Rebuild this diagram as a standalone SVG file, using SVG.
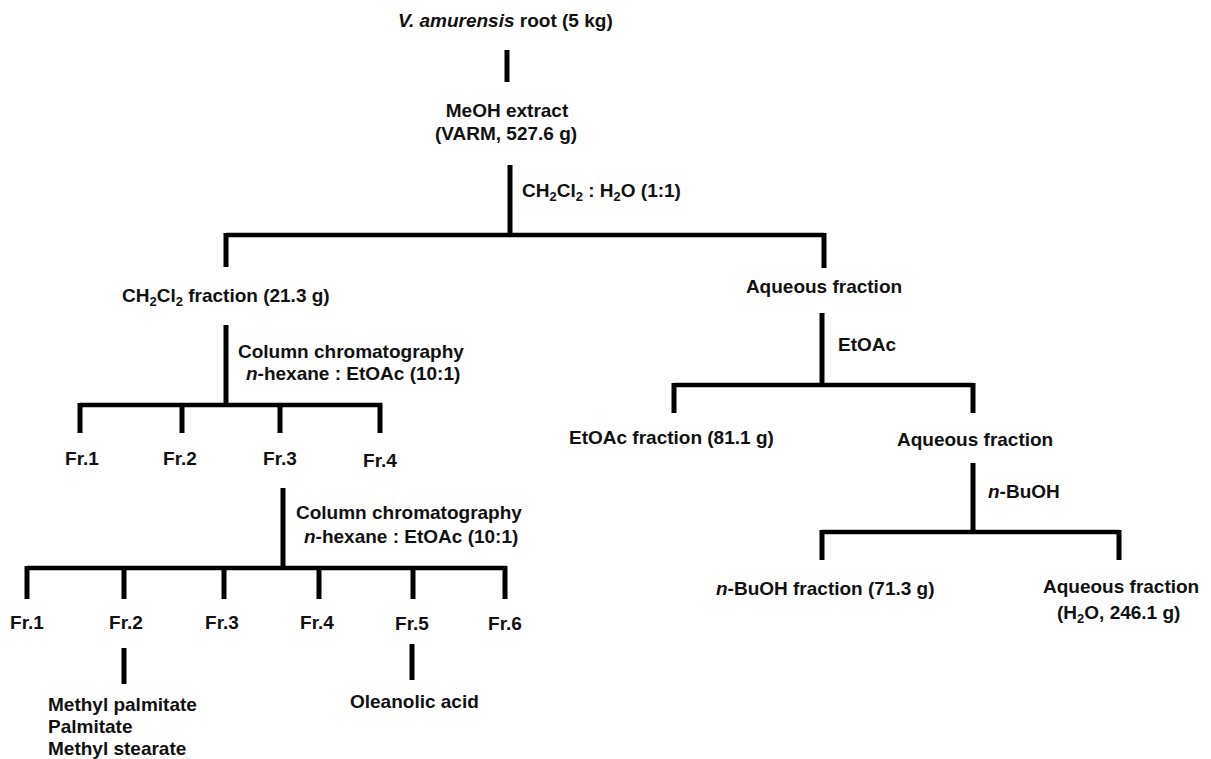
<svg xmlns="http://www.w3.org/2000/svg" width="1211" height="759" viewBox="0 0 1211 759">
<style>
text{font-family:"Liberation Sans",Arial,sans-serif;font-size:19px;font-weight:bold;fill:#111}
.m{text-anchor:middle}
.i{font-style:italic}
.s{font-size:13px}
.v{stroke:#000;stroke-width:5;fill:none}
.h{stroke:#000;stroke-width:4.5;fill:none}
</style>
<rect width="1211" height="759" fill="#fff"/>
<g id="connectors">
<path class="v" d="M507 50V82"/>
<path class="v" d="M510 165V235"/>
<path class="h" d="M226 235H824"/>
<path class="v" d="M226 233V267M824 233V268"/>
<path class="v" d="M226 325V405"/>
<path class="h" d="M80 405H382"/>
<path class="v" d="M80 403V433M182 403V433M280 403V433M380 403V433"/>
<path class="v" d="M283 488V568"/>
<path class="h" d="M27 568H507"/>
<path class="v" d="M27 566V599M124 566V599M224 566V599M319 566V599M413 566V599M505 566V599"/>
<path class="v" d="M124 648V684M412 644V680"/>
<path class="v" d="M822 313V385"/>
<path class="h" d="M674 385H973"/>
<path class="v" d="M674 383V413M973 383V413"/>
<path class="v" d="M973 463V532"/>
<path class="h" d="M822 532H1119"/>
<path class="v" d="M822 530V560M1119 530V560"/>
</g>
<g id="root"><text x="398" y="27"><tspan class="i">V. amurensis</tspan> root (5 kg)</text></g>
<g id="meoh"><text class="m" x="507" y="117">MeOH extract</text><text class="m" x="506" y="140">(VARM, 527.6 g)</text></g>
<g id="lbl-partition"><text x="522" y="197">CH<tspan class="s" dy="4">2</tspan><tspan dy="-4">Cl</tspan><tspan class="s" dy="4">2</tspan><tspan dy="-4"> : H</tspan><tspan class="s" dy="4">2</tspan><tspan dy="-4">O (1:1)</tspan></text></g>
<g id="ch2cl2"><text x="122" y="302">CH<tspan class="s" dy="4">2</tspan><tspan dy="-4">Cl</tspan><tspan class="s" dy="4">2</tspan><tspan dy="-4"> fraction (21.3 g)</tspan></text></g>
<g id="lbl-cc1"><text x="238" y="358">Column chromatography</text><text x="246" y="380"><tspan class="i">n</tspan>-hexane : EtOAc (10:1)</text></g>
<g id="fr1a"><text class="m" x="82" y="465">Fr.1</text></g>
<g id="fr2a"><text class="m" x="180" y="465">Fr.2</text></g>
<g id="fr3a"><text class="m" x="280" y="465">Fr.3</text></g>
<g id="fr4a"><text class="m" x="380" y="467">Fr.4</text></g>
<g id="lbl-cc2"><text x="296" y="519">Column chromatography</text><text x="304" y="543"><tspan class="i">n</tspan>-hexane : EtOAc (10:1)</text></g>
<g id="fr1b"><text class="m" x="27" y="629">Fr.1</text></g>
<g id="fr2b"><text class="m" x="126" y="629">Fr.2</text></g>
<g id="fr3b"><text class="m" x="222" y="629">Fr.3</text></g>
<g id="fr4b"><text class="m" x="317" y="629">Fr.4</text></g>
<g id="fr5b"><text class="m" x="412" y="630">Fr.5</text></g>
<g id="fr6b"><text class="m" x="505" y="630">Fr.6</text></g>
<g id="compounds"><text x="48" y="711">Methyl palmitate</text><text x="48" y="733">Palmitate</text><text x="48" y="755">Methyl stearate</text></g>
<g id="oleanolic"><text x="350" y="708">Oleanolic acid</text></g>
<g id="aq1"><text class="m" x="824" y="293">Aqueous fraction</text></g>
<g id="lbl-etoac"><text x="838" y="351">EtOAc</text></g>
<g id="etoac"><text x="569" y="444">EtOAc fraction (81.1 g)</text></g>
<g id="aq2"><text x="897" y="446">Aqueous fraction</text></g>
<g id="lbl-buoh"><text x="988" y="498"><tspan class="i">n</tspan>-BuOH</text></g>
<g id="buoh"><text x="716" y="595"><tspan class="i">n</tspan>-BuOH fraction (71.3 g)</text></g>
<g id="aq3"><text x="1043" y="593">Aqueous fraction</text><text x="1057" y="619">(H<tspan class="s" dy="4">2</tspan><tspan dy="-4">O, 246.1 g)</tspan></text></g>
</svg>
